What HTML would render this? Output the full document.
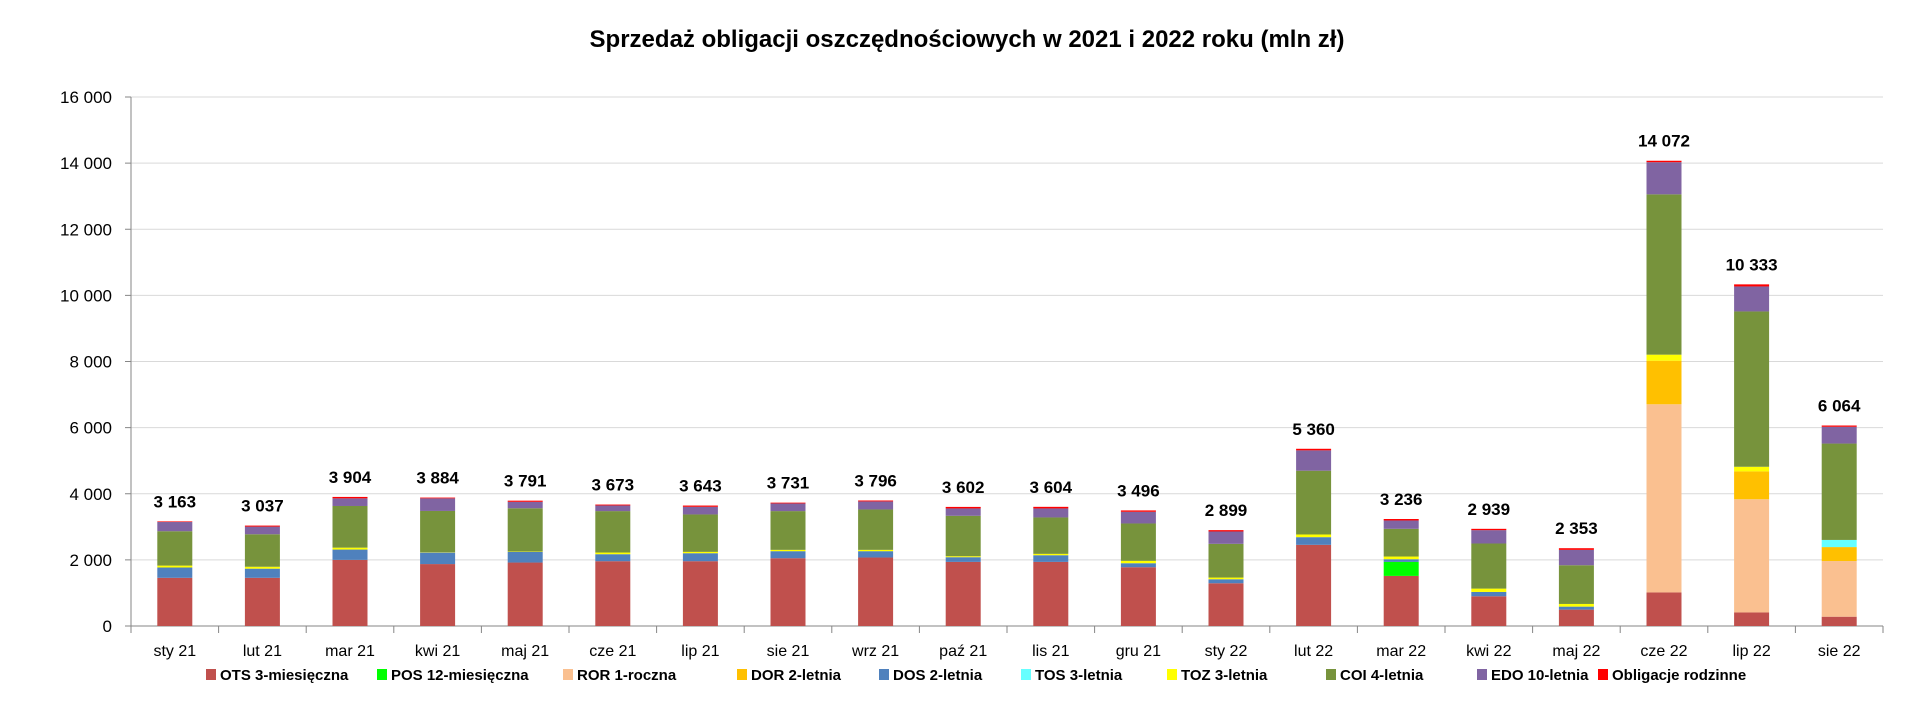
<!DOCTYPE html>
<html><head><meta charset="utf-8"><style>
html,body{margin:0;padding:0;background:#fff;}
svg{display:block;font-family:"Liberation Sans",sans-serif;}
</style></head><body>
<svg id="chart" width="1920" height="725" viewBox="0 0 1920 725" xmlns="http://www.w3.org/2000/svg">
<text x="967" y="47" text-anchor="middle" font-size="24" font-weight="bold" fill="#000">Sprzedaż obligacji oszczędnościowych w 2021 i 2022 roku (mln zł)</text>
<g id="grid"></g><g id="bars"></g><g id="axes"></g><g id="legend"></g>
</svg>
<script>
const categories = ["sty 21","lut 21","mar 21","kwi 21","maj 21","cze 21","lip 21","sie 21","wrz 21","paź 21","lis 21","gru 21","sty 22","lut 22","mar 22","kwi 22","maj 22","cze 22","lip 22","sie 22"];
const seriesNames = ["OTS 3-miesięczna","POS 12-miesięczna","ROR 1-roczna","DOR 2-letnia","DOS 2-letnia","TOS 3-letnia","TOZ 3-letnia","COI 4-letnia","EDO 10-letnia","Obligacje rodzinne"];
const seriesColors = ["#C0504D","#00FF00","#FAC090","#FFC000","#4F81BD","#66FFFF","#FFFF00","#77933C","#8064A2","#FF0000"];
const ots = [1457,1457,2000,1873,1919,1960,1960,2050,2071,1939,1939,1778,1293,2455,1515,899,495,1015,410,281];
const pos = [0,0,0,0,0,0,0,0,0,0,0,0,0,0,424,0,0,0,0,0];
const ror = [0,0,0,0,0,0,0,0,0,0,0,0,0,0,0,0,0,5691,3424,1684];
const dor = [0,0,0,0,0,0,0,0,0,0,0,0,0,0,0,0,0,1318,842,422];
const dos = [312,277,312,347,324,212,242,213,192,142,202,121,121,232,81,131,91,0,0,0];
const tos = [0,0,0,0,0,0,0,0,0,0,0,0,0,0,0,0,0,0,0,216];
const toz = [58,58,58,10,10,50,40,40,40,30,41,71,51,81,81,101,81,183,140,0];
const coi = [1040,983,1260,1250,1308,1253,1132,1172,1222,1222,1101,1131,1020,1929,838,1364,1171,4849,4698,2915];
const edo = [278,231,231,381,196,171,232,232,243,223,273,354,374,616,253,404,465,972,756,508];
const rodzinne = [18,31,43,23,34,27,37,24,28,46,48,41,40,47,44,40,50,44,63,38];
const totals = [3163,3037,3904,3884,3791,3673,3643,3731,3796,3602,3604,3496,2899,5360,3236,2939,2353,14072,10333,6064];
const yTicks = [0,2000,4000,6000,8000,10000,12000,14000,16000];

const series = [ots,pos,ror,dor,dos,tos,toz,coi,edo,rodzinne];
const NS="http://www.w3.org/2000/svg";
const X0=131, X1=1883, Y0=626, Y1=97, YMAX=16000;
const band=(X1-X0)/categories.length;
const barW=35;
function xC(i){return X0+band*(i+0.5);}
function y(v){return Y0-(v/YMAX)*(Y0-Y1);}
function fmt(n){return String(n).replace(/\B(?=(\d{3})+(?!\d))/g," ");}
function mk(tag,attrs,parent){const e=document.createElementNS(NS,tag);for(const k in attrs)e.setAttribute(k,attrs[k]);parent.appendChild(e);return e;}
const grid=document.getElementById('grid'),bars=document.getElementById('bars'),axes=document.getElementById('axes'),legend=document.getElementById('legend');

yTicks.forEach(t=>{
  const l=mk('line',{x1:X0,x2:X1,y1:y(t),y2:y(t),stroke:t===0?'#868686':'#D9D9D9','stroke-width':1},grid);
  
  
  const tk=mk('line',{x1:X0-6,x2:X0,y1:y(t),y2:y(t),stroke:'#868686'},axes);
  
  
  const tx=mk('text',{x:X0-19,y:y(t)+6,'text-anchor':'end','font-size':17,fill:'#000'},axes);
  tx.textContent=fmt(t);
  
  
});
const ya=mk('line',{x1:X0,x2:X0,y1:Y1,y2:Y0+7,stroke:'#868686'},axes);



categories.forEach((c,i)=>{
  let acc=0;
  series.forEach((s,k)=>{
    const v=s[i]; if(!v) return;
    const r=mk('rect',{x:xC(i)-barW/2,y:y(acc+v),width:barW,height:y(acc)-y(acc+v),fill:seriesColors[k]},bars);
    
    
    acc+=v;
  });
  const lb=mk('text',{x:xC(i),y:y(totals[i])-14,'text-anchor':'middle','font-size':17,'font-weight':'bold',fill:'#000'},bars);
  lb.textContent=fmt(totals[i]);
  
  
  const tk=mk('line',{x1:X0+band*(i+1),x2:X0+band*(i+1),y1:Y0,y2:Y0+7,stroke:'#868686'},axes);
  
  
  const xl=mk('text',{x:xC(i),y:656,'text-anchor':'middle','font-size':16,fill:'#000'},axes);
  xl.textContent=c;
  
  
});

const legX=[206,377,563,737,879,1021,1167,1326,1477,1598];
seriesNames.forEach((n,k)=>{
  const g=mk('g',{},legend);
  
  
  mk('rect',{x:legX[k],y:669,width:10,height:11,fill:seriesColors[k]},g);
  const t=mk('text',{x:legX[k]+14,y:680,'font-size':15,'font-weight':'bold',fill:'#000'},g);
  t.textContent=n;
});
</script>
</body></html>
